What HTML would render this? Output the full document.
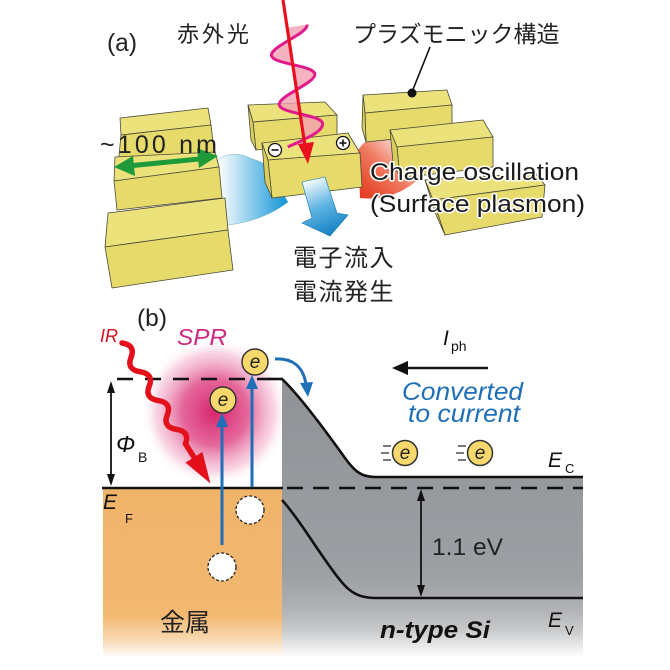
<!DOCTYPE html>
<html><head><meta charset="utf-8">
<style>
html,body{margin:0;padding:0;background:#fff;}
svg{display:block;}
text{font-family:"Liberation Sans","Noto Sans CJK JP",sans-serif;}
.jp{font-family:"Liberation Sans","Noto Sans CJK JP",sans-serif;}
</style></head>
<body>
<svg width="670" height="670" viewBox="0 0 670 670" xmlns="http://www.w3.org/2000/svg">
<defs>
  <linearGradient id="gGrey" gradientUnits="userSpaceOnUse" x1="0" y1="379" x2="0" y2="657">
    <stop offset="0" stop-color="#8f9296"/>
    <stop offset="0.7" stop-color="#9c9fa3"/>
    <stop offset="0.82" stop-color="#aeb0b3"/>
    <stop offset="0.9" stop-color="#c6c8ca"/>
    <stop offset="1" stop-color="#ffffff"/>
  </linearGradient>
  <linearGradient id="gOr" gradientUnits="userSpaceOnUse" x1="0" y1="488" x2="0" y2="657">
    <stop offset="0" stop-color="#f0b36a"/>
    <stop offset="0.75" stop-color="#f2b870"/>
    <stop offset="0.9" stop-color="#f8d9b2"/>
    <stop offset="1" stop-color="#ffffff"/>
  </linearGradient>
  <radialGradient id="gPink" gradientUnits="userSpaceOnUse" cx="215" cy="412" r="74">
    <stop offset="0" stop-color="#d8246c"/>
    <stop offset="0.45" stop-color="#e04d8a" stop-opacity="0.85"/>
    <stop offset="0.8" stop-color="#f0a0c0" stop-opacity="0.45"/>
    <stop offset="1" stop-color="#ffffff" stop-opacity="0"/>
  </radialGradient>
  <linearGradient id="gBlueGlow" gradientUnits="userSpaceOnUse" x1="218" y1="0" x2="285" y2="0">
    <stop offset="0" stop-color="#ffffff"/>
    <stop offset="1" stop-color="#1798d8"/>
  </linearGradient>
  <linearGradient id="gRed" gradientUnits="userSpaceOnUse" x1="360" y1="196" x2="412" y2="140">
    <stop offset="0" stop-color="#e33a1e"/>
    <stop offset="0.5" stop-color="#f07a62"/>
    <stop offset="1" stop-color="#ffffff"/>
  </linearGradient>
  <linearGradient id="gBlueArrow" gradientUnits="userSpaceOnUse" x1="305" y1="180" x2="330" y2="236">
    <stop offset="0" stop-color="#ffffff"/>
    <stop offset="0.5" stop-color="#5fb4e2"/>
    <stop offset="1" stop-color="#1480c4"/>
  </linearGradient>
</defs>

<!-- ================= (a) ================= -->
<text x="107" y="51" font-size="25" fill="#222" textLength="30" lengthAdjust="spacingAndGlyphs">(a)</text>
<text x="177" y="42" font-size="22" letter-spacing="3" fill="#222" class="jp">赤外光</text>
<text x="353" y="42" font-size="23" fill="#222" class="jp">プラズモニック構造</text>
<line x1="430" y1="47" x2="412" y2="92" stroke="#111" stroke-width="1.6"/>

<!-- blue glow -->
<path d="M218,160 C228,152 240,153 250,158 C258,161 262,162 264,164 L288,202 C275,212 255,222 228,225 C222,218 220,208 220,200 Z" fill="url(#gBlueGlow)" stroke="#6aa" stroke-width="0.4"/>
<!-- red glow -->
<path d="M358,150 C372,130 395,128 410,142 L420,178 C400,196 380,200 360,198 Z" fill="url(#gRed)"/>

<g stroke="#4a4a3a" stroke-width="0.8" stroke-linejoin="round">
  <!-- left stack -->
  <polygon points="120,118 208,108 211,125 121,135" fill="#ece27c"/>
  <polygon points="121,135 211,125 215,158 118,166" fill="#e6da6a"/>
  <polygon points="115,157 215,152 219,167 114,181" fill="#ece27c"/>
  <polygon points="114,181 219,167 222,198 117,210" fill="#e6da6a"/>
  <polygon points="108,213 225,198 228,230 105,247" fill="#ece27c"/>
  <polygon points="105,247 228,230 233,270 112,288" fill="#e6da6a"/>

  <!-- middle back -->
  <polygon points="248,105 325,102 337,115 253,122" fill="#ece27c"/>
  <polygon points="253,122 337,115 337,142 256,150" fill="#e6da6a"/>
  <polygon points="248,105 253,122 256,150 251,140" fill="#d9cd5c"/>
  <!-- middle front -->
  <polygon points="262,143 348,133 360,153 268,160" fill="#ece27c"/>
  <polygon points="268,160 360,153 362,187 272,198" fill="#e6da6a"/>
  <polygon points="262,143 268,160 272,198 265,182" fill="#d9cd5c"/>

  <!-- right blocks -->
  <polygon points="363,95 447,90 452,105 365,113" fill="#ece27c"/>
  <polygon points="365,113 452,105 452,133 366,142" fill="#e6da6a"/>
  <polygon points="363,95 365,113 366,142 362,128" fill="#d9cd5c"/>
  <polygon points="390,130 483,120 493,137 397,147" fill="#ece27c"/>
  <polygon points="397,147 493,137 493,167 400,178" fill="#e6da6a"/>
  <polygon points="390,130 397,147 400,178 393,162" fill="#d9cd5c"/>
  <polygon points="425,180 535,173 545,185 433,200" fill="#ece27c"/>
  <polygon points="433,200 545,185 542,217 445,235" fill="#e6da6a"/>
  <polygon points="425,180 433,200 445,235 436,215" fill="#d9cd5c"/>
</g>
<circle cx="412" cy="93" r="4.5" fill="#111"/>

<!-- blue big arrow -->
<polygon points="302,182 325,177 337,213 348,215 330,236 302,223 312,218" fill="url(#gBlueArrow)" stroke="#1477b4" stroke-width="0.6"/>

<!-- pink wave + red arrow -->
<g transform="translate(283,0) rotate(81.1)">
  <path d="M28,-20 C37,-20 44,20 53,20 C62,20 69,-20 78,-20 C87,-20 94,20 103,20 C112,20 119,-20 128,-20 C137,-20 142,5 146,18 L146,0 L28,0 Z" fill="#f2a0b2" fill-opacity="0.8"/>
  <path d="M28,-20 C37,-20 44,20 53,20 C62,20 69,-20 78,-20 C87,-20 94,20 103,20 C112,20 119,-20 128,-20 C137,-20 142,5 146,18" fill="none" stroke="#e01a8a" stroke-width="3"/>
</g>
<line x1="283" y1="0" x2="305" y2="146" stroke="#e8101e" stroke-width="3.2"/>
<polygon points="298,144 314,142 308,164" fill="#e8101e"/>

<!-- charges -->
<circle cx="275" cy="150" r="6.5" fill="#fff" stroke="#111" stroke-width="1.3"/>
<line x1="271.5" y1="150" x2="278.5" y2="150" stroke="#111" stroke-width="1.6"/>
<circle cx="343" cy="143" r="6.5" fill="#fff" stroke="#111" stroke-width="1.3"/>
<line x1="339.5" y1="143" x2="346.5" y2="143" stroke="#111" stroke-width="1.6"/>
<line x1="343" y1="139.5" x2="343" y2="146.5" stroke="#111" stroke-width="1.6"/>

<!-- green arrow -->
<line x1="128" y1="166" x2="204" y2="158.5" stroke="#1f9a3a" stroke-width="5"/>
<polygon points="114,167 133,156 135,176" fill="#1f9a3a"/>
<polygon points="218,156 197,148 199,168" fill="#1f9a3a"/>
<text x="100" y="153" font-size="25" fill="#222" textLength="117" lengthAdjust="spacing">~100 nm</text>

<!-- labels with white halo -->
<g font-size="24" fill="#1a1a1a" stroke="#fff" stroke-width="3" paint-order="stroke" stroke-linejoin="round">
  <text x="370" y="180" textLength="209" lengthAdjust="spacingAndGlyphs">Charge oscillation</text>
  <text x="370" y="212" textLength="215" lengthAdjust="spacingAndGlyphs">(Surface plasmon)</text>
</g>
<text x="293" y="266" font-size="24" letter-spacing="1.5" fill="#222" class="jp">電子流入</text>
<text x="293" y="300" font-size="24" letter-spacing="1.5" fill="#222" class="jp">電流発生</text>

<!-- ================= (b) ================= -->
<!-- pink glow -->
<circle cx="215" cy="412" r="74" fill="url(#gPink)"/>
<!-- metal -->
<rect x="103" y="488" width="179" height="170" fill="url(#gOr)"/>
<!-- semiconductor -->
<path d="M282,379 C300,396 325,430 345,458 C355,472 362,477 375,477 L583,477 L583,658 L282,658 Z" fill="url(#gGrey)"/>

<!-- band lines -->
<path d="M282,379 C300,396 325,430 345,458 C355,472 362,477 375,477 L583,477" fill="none" stroke="#111" stroke-width="2.6"/>
<path d="M282,500 C300,520 322,558 340,580 C350,593 360,598 375,598 L583,598" fill="none" stroke="#111" stroke-width="2.6"/>
<line x1="117" y1="379" x2="270" y2="379" stroke="#111" stroke-width="2.6" stroke-dasharray="16 12"/>
<line x1="268" y1="379" x2="283" y2="379" stroke="#111" stroke-width="2.6"/>
<line x1="102" y1="488" x2="283" y2="488" stroke="#111" stroke-width="2.6"/>
<line x1="283" y1="488" x2="583" y2="488" stroke="#111" stroke-width="2.6" stroke-dasharray="16 10" stroke-dashoffset="-4"/>

<!-- Phi_B arrow -->
<line x1="111" y1="390" x2="111" y2="476" stroke="#111" stroke-width="1.8"/>
<polygon points="111,381 107,393 115,393" fill="#111"/>
<polygon points="111,486 107,474 115,474" fill="#111"/>
<!-- 1.1 eV arrow -->
<line x1="421" y1="498" x2="421" y2="588" stroke="#111" stroke-width="1.8"/>
<polygon points="421,489 417,501 425,501" fill="#111"/>
<polygon points="421,597 417,585 425,585" fill="#111"/>
<!-- I_ph arrow -->
<line x1="404" y1="368" x2="488" y2="368" stroke="#111" stroke-width="2.6"/>
<polygon points="392,368 408,361 408,375" fill="#111"/>

<!-- IR wavy arrow -->
<g transform="translate(122,343) rotate(57.8)">
  <path d="M0,0 C6,-7 12,-7 17,0 C22,7 28,7 34,0 C40,-7 46,-7 51,0 C56,7 62,7 68,0 C74,-7 80,-7 85,0 C90,7 96,7 102,0 C108,-7 114,-7 119,0 L140,0" fill="none" stroke="#e3101c" stroke-width="5.5" stroke-linecap="round"/>
  <polygon points="135,-10 166,0 135,10" fill="#e3101c"/>
</g>

<!-- blue arrows -->
<line x1="222" y1="545" x2="222" y2="424" stroke="#1e6fb8" stroke-width="3"/>
<polygon points="222,413 216,427 228,427" fill="#1e6fb8"/>
<line x1="252" y1="487" x2="252" y2="386" stroke="#1e6fb8" stroke-width="3"/>
<polygon points="252,375 246,389 258,389" fill="#1e6fb8"/>
<path d="M275,359 C292,358 303,366 306,384" fill="none" stroke="#1e6fb8" stroke-width="3"/>
<polygon points="300,383 313,382 308,397" fill="#1e6fb8"/>

<!-- holes -->
<circle cx="250" cy="510" r="14" fill="#fff" stroke="#222" stroke-width="1.3" stroke-dasharray="3 2"/>
<circle cx="222" cy="567" r="14" fill="#fff" stroke="#222" stroke-width="1.3" stroke-dasharray="3 2"/>

<!-- electrons -->
<g stroke="#333" stroke-width="1.5" fill="#f8d86c">
  <circle cx="255" cy="362" r="13"/>
  <circle cx="223" cy="400" r="13"/>
  <circle cx="405" cy="453" r="12.5"/>
  <circle cx="480" cy="453" r="12.5"/>
</g>
<g font-size="19" font-style="italic" fill="#222" text-anchor="middle">
  <text x="255" y="368">e</text>
  <text x="223" y="406">e</text>
  <text x="405" y="459">e</text>
  <text x="480" y="459">e</text>
</g>
<g stroke="#333" stroke-width="1.3">
  <line x1="383" y1="446" x2="391" y2="446"/>
  <line x1="381" y1="453" x2="389" y2="453"/>
  <line x1="383" y1="460" x2="391" y2="460"/>
  <line x1="458" y1="446" x2="466" y2="446"/>
  <line x1="456" y1="453" x2="464" y2="453"/>
  <line x1="458" y1="460" x2="466" y2="460"/>
</g>

<!-- labels (b) -->
<text x="137" y="326" font-size="24" fill="#222" textLength="30" lengthAdjust="spacingAndGlyphs">(b)</text>
<text x="100" y="342" font-size="18" font-style="italic" fill="#d3121e">IR</text>
<text x="177" y="345" font-size="23" font-style="italic" fill="#d0287e" textLength="50" lengthAdjust="spacingAndGlyphs">SPR</text>
<text x="116" y="452" font-size="23" font-style="italic" fill="#111">Φ</text>
<text x="138" y="462" font-size="14" fill="#111">B</text>
<text x="103" y="509" font-size="21" font-style="italic" fill="#111">E</text>
<text x="125" y="523" font-size="13" fill="#111">F</text>
<text x="160" y="631" font-size="25" fill="#222" class="jp">金属</text>
<text x="443" y="345" font-size="21" font-style="italic" fill="#111">I</text>
<text x="451" y="351" font-size="14" fill="#111">ph</text>
<text x="402" y="400" font-size="25" font-style="italic" fill="#1e6fb8" textLength="121" lengthAdjust="spacingAndGlyphs">Converted</text>
<text x="408" y="422" font-size="25" font-style="italic" fill="#1e6fb8" textLength="112" lengthAdjust="spacingAndGlyphs">to current</text>
<text x="548" y="467" font-size="21" font-style="italic" fill="#111">E</text>
<text x="565" y="473" font-size="13" fill="#111">C</text>
<text x="432" y="555" font-size="24" fill="#222" textLength="71" lengthAdjust="spacingAndGlyphs">1.1 eV</text>
<text x="548" y="627" font-size="21" font-style="italic" fill="#111">E</text>
<text x="565" y="635" font-size="13" fill="#111">V</text>
<text x="380" y="638" font-size="24" font-weight="bold" font-style="italic" fill="#111" textLength="110" lengthAdjust="spacingAndGlyphs">n-type Si</text>
</svg>
</body></html>
